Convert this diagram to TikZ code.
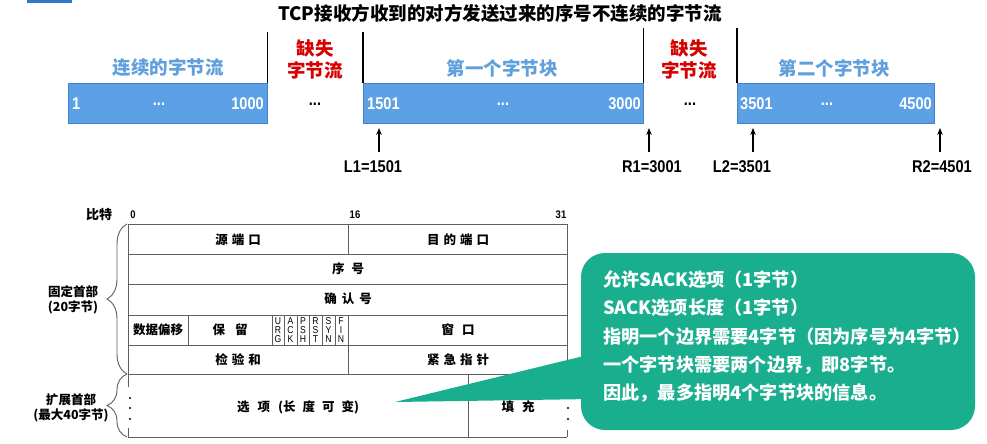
\documentclass[tikz,border=0pt]{standalone}
\usepackage{fontspec}
\setmainfont{Noto Sans CJK SC}
\newfontfamily\nums{Liberation Sans}[FakeStretch=0.86]
\usetikzlibrary{arrows.meta,decorations.pathreplacing}
\definecolor{barblue}{RGB}{92,160,230}
\definecolor{baredge}{RGB}{70,130,195}
\definecolor{lblblue}{RGB}{95,160,220}
\definecolor{lossred}{RGB}{215,0,0}
\definecolor{calloutgreen}{RGB}{24,174,142}
\definecolor{gridgray}{RGB}{95,95,95}
\definecolor{tabblue}{RGB}{50,120,200}
\newcommand\gap[1]{\hspace{#1pt}}
\begin{document}
\begin{tikzpicture}[x=1pt,y=-1pt,
  bar/.style={fill=barblue,draw=baredge,line width=0.8pt,minimum height=40pt,inner sep=0,anchor=north west},
  inbar/.style={text=white,font=\nums\bfseries\fontsize{17}{18}\selectfont,inner sep=0},
  blocklabel/.style={text=lblblue,font=\bfseries\fontsize{18.5}{20}\selectfont},
  losslabel/.style={text=lossred,font=\bfseries\fontsize{18.5}{22}\selectfont,align=center},
  sepline/.style={line width=1.2pt,black},
  ptr/.style={-{Stealth[length=7pt,width=5.5pt]},line width=1.3pt},
  edgelabel/.style={font=\nums\bfseries\fontsize{17}{18}\selectfont},
  grid/.style={draw=gridgray,line width=0.9pt},
  field/.style={font=\bfseries\fontsize{12.5}{14}\selectfont,inner sep=0},
  flag/.style={font=\nums\fontsize{10}{9}\selectfont,align=center,inner sep=0},
  sidelabel/.style={font=\bfseries\fontsize{12.5}{15}\selectfont,align=center,inner sep=0},
  bitlabel/.style={font=\nums\bfseries\fontsize{11}{12}\selectfont,inner sep=0},
  hbrace/.style={decorate,decoration={brace,amplitude=20pt},draw=gridgray,line width=0.9pt},
  note/.style={text=white,font=\bfseries\fontsize{18.2}{20}\selectfont,anchor=west,inner sep=0},
]
\useasboundingbox (0,0) rectangle (987,444);
\fill[white] (0,0) rectangle (987,444);
\fill[tabblue] (27,0) rectangle (72,3);

% ---------- byte stream ----------
\node[font=\bfseries\fontsize{18.5}{20}\selectfont] (title) at (500,13) {TCP接收方收到的对方发送过来的序号不连续的字节流};

\node[bar,minimum width=199pt] (b1) at (68,83) {};
\node[bar,minimum width=280pt] (b2) at (363,83) {};
\node[bar,minimum width=197pt] (b3) at (737,83) {};

\draw[sepline] (b1.north east) -- ++(0,-51);
\draw[sepline] (b2.north west) -- ++(0,-51);
\draw[sepline] (b2.north east) -- ++(0,-55);
\draw[sepline] (b3.north west) -- ++(0,-55);

\node[blocklabel] (l1) at (168,68) {连续的字节流};
\node[blocklabel] (l2) at (502,68) {第一个字节块};
\node[blocklabel] (l3) at (834,68) {第二个字节块};
\node[losslabel] (m1) at (315,59) {缺失\\字节流};
\node[losslabel] (m2) at (689,59) {缺失\\字节流};

\node[inbar,anchor=west] (n1) at (72,104) {1};
\node[inbar] (d1) at (159,104) {...};
\node[inbar,anchor=east] (n2) at (264,104) {1000};
\node[inbar,anchor=west] (n3) at (367,104) {1501};
\node[inbar] (d2) at (503,104) {...};
\node[inbar,anchor=east] (n4) at (641,104) {3000};
\node[inbar,anchor=west] (n5) at (740,104) {3501};
\node[inbar] (d3) at (827,104) {...};
\node[inbar,anchor=east] (n6) at (932,104) {4500};
\node[inbar,text=black] (g1) at (315,104) {...};
\node[inbar,text=black] (g2) at (690,104) {...};

\node[edgelabel] (L1) at (373,167) {L1=1501};
\node[edgelabel] (R1) at (652,167) {R1=3001};
\node[edgelabel] (L2) at (742,167) {L2=3501};
\node[edgelabel] (R2) at (942,167) {R2=4501};
\coordinate (L1t) at (379,128);
\coordinate (R1t) at (649,128);
\coordinate (L2t) at (753,128);
\coordinate (R2t) at (940,128);
\draw[ptr] (L1t |- 0,152) -- (L1t);
\draw[ptr] (R1t |- 0,152) -- (R1t);
\draw[ptr] (L2t |- 0,152) -- (L2t);
\draw[ptr] (R2t |- 0,152) -- (R2t);

% ---------- TCP header ----------
\node[font=\bfseries\fontsize{13}{14}\selectfont,inner sep=0] (bits) at (99,215) {比特};
\node[bitlabel] (b0) at (133,215) {0};
\node[bitlabel] (b16) at (355,215) {16};
\node[bitlabel] (b31) at (561,215) {31};

\draw[grid] (128,224) rectangle (567,374);
\foreach \yy in {254,284,315,345} \draw[grid] (128,\yy) -- (567,\yy);
\draw[grid] (348,224) -- (348,254);
\draw[grid] (348,315) -- (348,374);
\foreach \xx in {188,272,284,297,309,322,335} \draw[grid] (\xx,315) -- (\xx,345);

% options row with dotted sides
\draw[grid] (128,437) -- (567,437);
\draw[grid] (468,374) -- (468,437);
\draw[grid] (128,374) -- (128,387);
\draw[grid] (128,428) -- (128,437);
\draw[grid] (567,374) -- (567,387);
\draw[grid] (567,430) -- (567,437);
\foreach \yy in {398,408,419} {
  \fill[black] (130,\yy) circle (1.1pt);
  \fill[black] (568,\yy) circle (1.1pt);
}

\node[field] (src) at (238,240) {源\gap{4}端\gap{4}口};
\node[field] (dst) at (458,240) {目\gap{4}的\gap{4}端\gap{4}口};
\node[field] (seq) at (348,269) {序\gap{7}号};
\node[field] (ack) at (348,299) {确\gap{5}认\gap{5}号};
\node[field] (off) at (158,330) {数据偏移};
\node[field] (res) at (230,330) {保\gap{10}留};
\node[field] (win) at (458,330) {窗\gap{8}口};
\node[field] (chk) at (238,360) {检\gap{4}验\gap{4}和};
\node[field] (urp) at (458,360) {紧\gap{4}急\gap{4}指\gap{4}针};
\node[field] (opt) at (298,407) {选\gap{8}项\gap{8}(长\gap{7}度\gap{7}可\gap{7}变)};
\node[field] (pad) at (518,407) {填\gap{8}充};

\node[flag] (fu) at (278,330) {U\\R\\G};
\node[flag] (fa) at (290.5,330) {A\\C\\K};
\node[flag] (fp) at (303,330) {P\\S\\H};
\node[flag] (fr) at (315.5,330) {R\\S\\T};
\node[flag] (fs) at (328.5,330) {S\\Y\\N};
\node[flag] (ff) at (341,330) {F\\I\\N};

\draw[hbrace] (127,374) -- (127,224);
\draw[hbrace] (127,437) -- (127,374);
\node[sidelabel] (fixed) at (73,300) {固定首部\\(20字节)};
\node[sidelabel] (ext) at (71,408) {扩展首部\\(最大40字节)};

% ---------- callout ----------
\fill[calloutgreen,rounded corners=24pt] (581,253) rectangle (975,430);
\fill[calloutgreen] (395,402) -- (592,354) -- (592,399) -- cycle;
\coordinate (tip) at (395,402);

\node[note] (t1) at (603,280) {允许SACK选项（1字节）};
\node[note] (t2) at (603,308) {SACK选项长度（1字节）};
\node[note] (t3) at (603,337) {指明一个边界需要4字节（因为序号为4字节）};
\node[note] (t4) at (603,365) {一个字节块需要两个边界，即8字节。};
\node[note] (t5) at (603,393) {因此，最多指明4个字节块的信息。};
\end{tikzpicture}
\end{document}
